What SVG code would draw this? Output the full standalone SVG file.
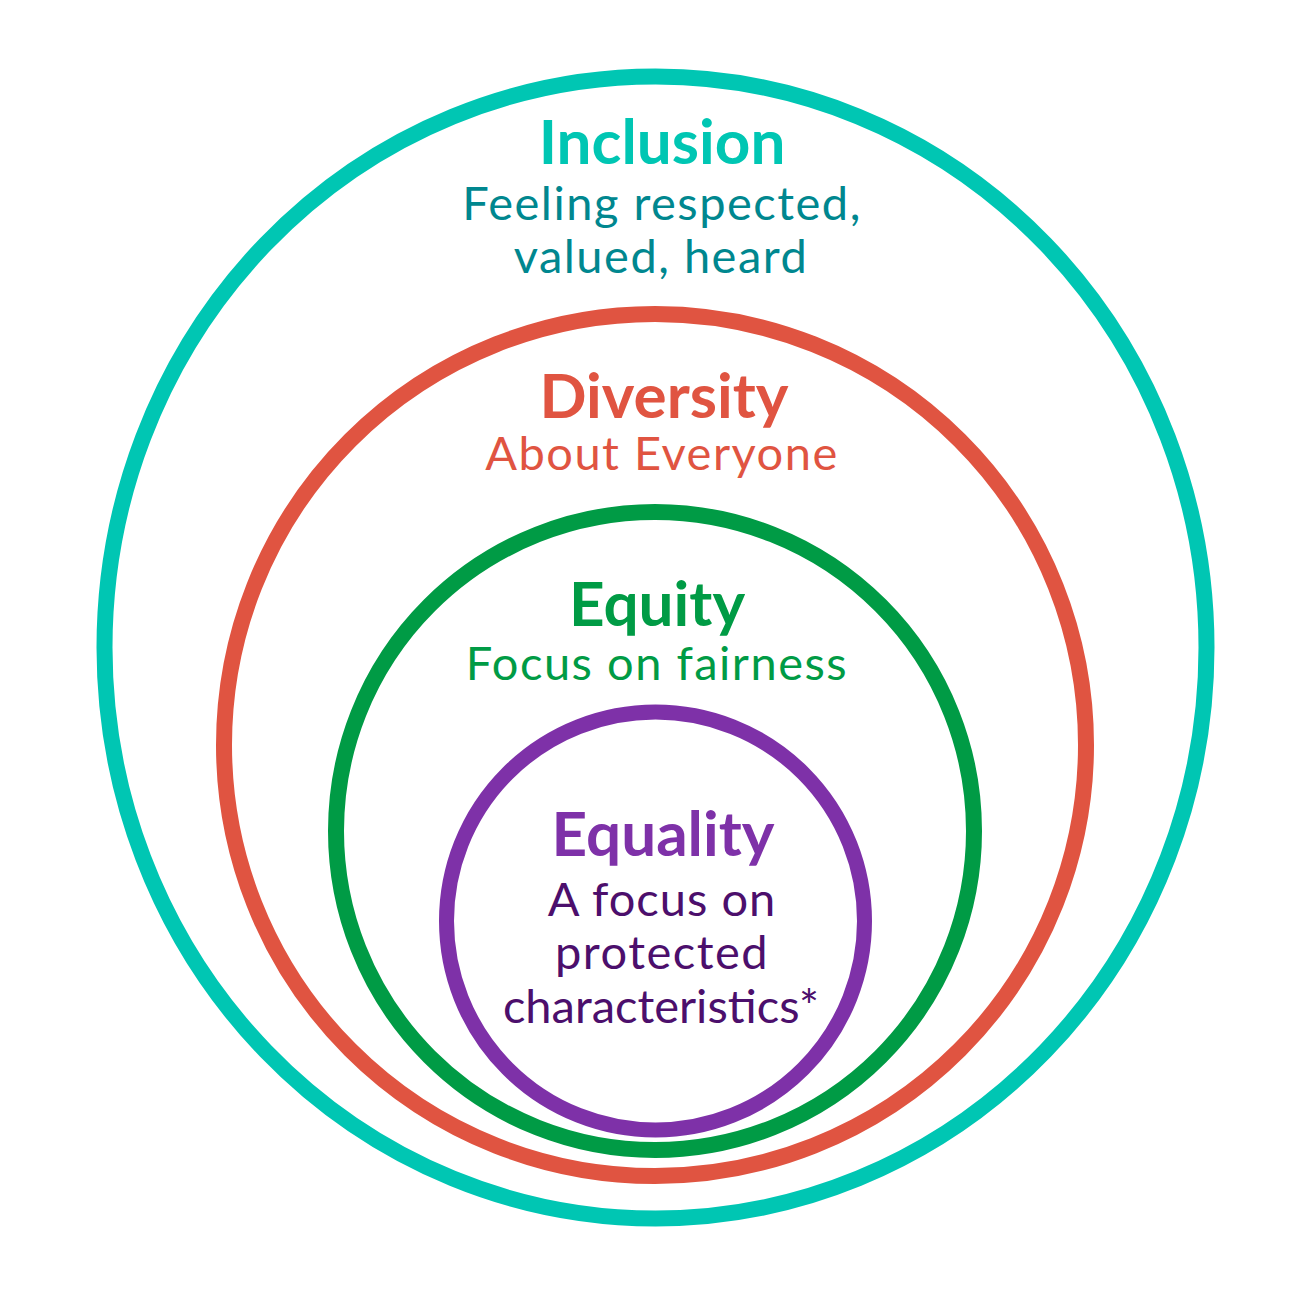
<svg xmlns="http://www.w3.org/2000/svg" width="1310" height="1310" viewBox="0 0 1310 1310">
<style>
.ring{fill:none}
.h{font-family:Lato,"Open Sans","Liberation Sans",sans-serif;font-weight:700;font-size:62px;text-anchor:middle}
.s{font-family:Lato,"Open Sans","Liberation Sans",sans-serif;font-weight:400;font-size:47px;text-anchor:middle;letter-spacing:1.5px}
</style>
<rect width="1310" height="1310" fill="#ffffff"/>
<g id="inclusion">
<ellipse class="ring" cx="655.5" cy="647.5" rx="551" ry="571" stroke="#00C6B3" stroke-width="16"/>
<text class="h" x="662" y="164" fill="#00C6B3">Inclusion</text>
<text class="s" x="662" y="220" fill="#00878F">Feeling respected,</text>
<text class="s" x="661" y="273" fill="#00878F">valued, heard</text>
</g>
<g id="diversity">
<circle class="ring" cx="655" cy="745" r="431" stroke="#E05441" stroke-width="16"/>
<text class="h" x="664" y="418" fill="#E05441">Diversity</text>
<text class="s" x="662" y="470" fill="#E05441">About Everyone</text>
</g>
<g id="equity">
<circle class="ring" cx="655" cy="831" r="319" stroke="#009B45" stroke-width="16"/>
<text class="h" x="657" y="626" fill="#009B45">Equity</text>
<text class="s" x="657" y="680" fill="#009B45">Focus on fairness</text>
</g>
<g id="equality">
<circle class="ring" cx="655.5" cy="921" r="209" stroke="#7E31A8" stroke-width="15"/>
<text class="h" x="663" y="856" fill="#7E31A8">Equality</text>
<text class="s" x="662" y="916" fill="#4C0F6C" style="letter-spacing:1px">A focus on</text>
<text class="s" x="662" y="969" fill="#4C0F6C">protected</text>
<text class="s" x="661" y="1023" fill="#4C0F6C" style="letter-spacing:0">characteristics*</text>
</g>
<g id="connectors"/>
</svg>
